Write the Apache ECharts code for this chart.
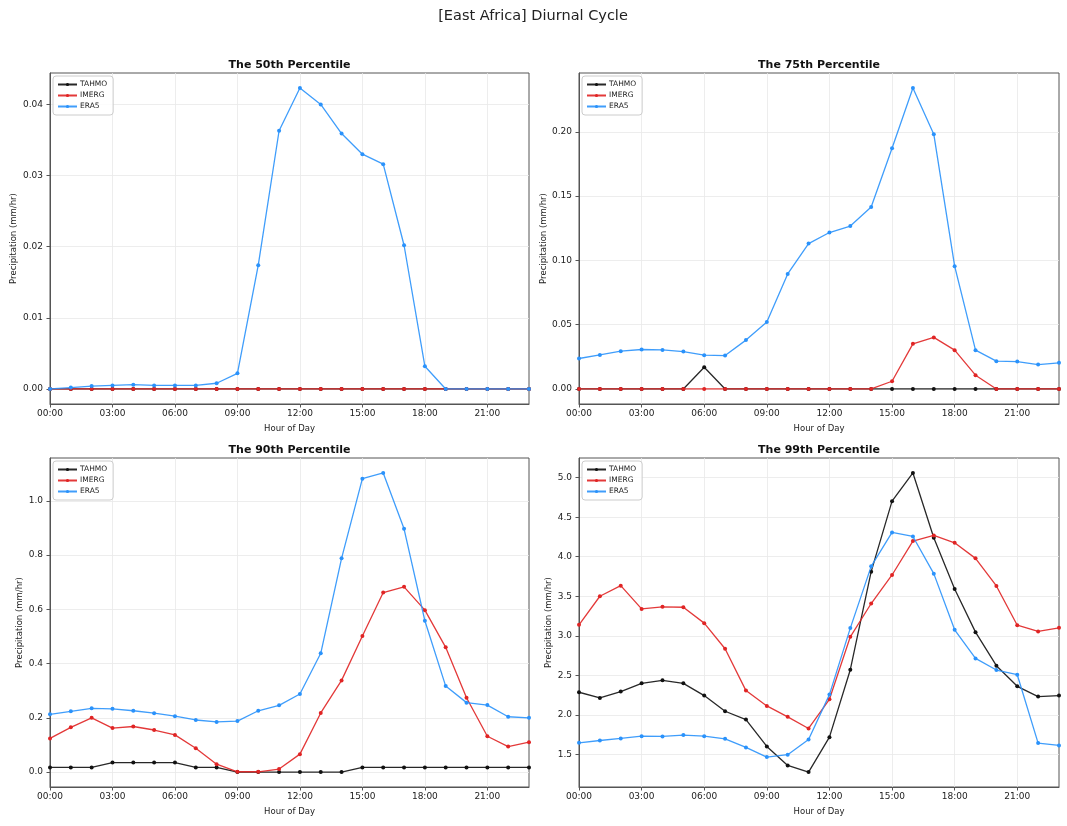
<!DOCTYPE html>
<html>
<head>
<meta charset="utf-8">
<title>[East Africa] Diurnal Cycle</title>
<script src="https://cdn.jsdelivr.net/npm/echarts@6/dist/echarts.min.js"></script>
<style>
	html, body { margin: 0; padding: 0; background: #fff; }
	#chart { width: 1067px; height: 826px; }
</style>
</head>
<body>
<div id="chart"></div>
<script>
// hours of the day (category axis)
var hours = ['00:00', '01:00', '02:00', '03:00', '04:00', '05:00', '06:00', '07:00', '08:00', '09:00', '10:00', '11:00',
	'12:00', '13:00', '14:00', '15:00', '16:00', '17:00', '18:00', '19:00', '20:00', '21:00', '22:00', '23:00'];

var datasetNames = ['TAHMO', 'IMERG', 'ERA5'];
var panelTitles = ['The 50th Percentile', 'The 75th Percentile', 'The 90th Percentile', 'The 99th Percentile'];

// 50th percentile
var tahmoP50 = [0, 0, 0, 0, 0, 0, 0, 0, 0, 0, 0, 0, 0, 0, 0, 0, 0, 0, 0, 0, 0, 0, 0, 0];
var imergP50 = [0, 0, 0, 0, 0, 0, 0, 0, 0, 0, 0, 0, 0, 0, 0, 0, 0, 0, 0, 0, 0, 0, 0, 0];
var era5P50 = [0, 0.0002, 0.0004, 0.0005, 0.0006, 0.0005, 0.0005, 0.0005, 0.0008, 0.0022, 0.0174, 0.0363,
	0.0423, 0.0400, 0.0359, 0.0330, 0.0316, 0.0202, 0.0032, 0, 0, 0, 0, 0];

// 75th percentile
var tahmoP75 = [0, 0, 0, 0, 0, 0, 0.0169, 0, 0, 0, 0, 0, 0, 0, 0, 0, 0, 0, 0, 0, 0, 0, 0, 0];
var imergP75 = [0, 0, 0, 0, 0, 0, 0, 0, 0, 0, 0, 0, 0, 0, 0, 0.0060, 0.0351, 0.0401, 0.0302, 0.0107, 0, 0, 0, 0];
var era5P75 = [0.0237, 0.0265, 0.0294, 0.0307, 0.0304, 0.0291, 0.0263, 0.0260, 0.0380, 0.0520, 0.0895, 0.1131,
	0.1217, 0.1267, 0.1415, 0.1873, 0.2341, 0.1982, 0.0955, 0.0302, 0.0216, 0.0213, 0.0190, 0.0203];

// 90th percentile
var tahmoP90 = [0.017, 0.017, 0.017, 0.035, 0.035, 0.035, 0.035, 0.017, 0.017, 0, 0, 0,
	0, 0, 0, 0.017, 0.017, 0.017, 0.017, 0.017, 0.017, 0.017, 0.017, 0.017];
var imergP90 = [0.124, 0.165, 0.200, 0.162, 0.168, 0.155, 0.137, 0.088, 0.029, 0.001, 0.001, 0.011,
	0.066, 0.218, 0.338, 0.502, 0.662, 0.683, 0.597, 0.460, 0.274, 0.132, 0.094, 0.110];
var era5P90 = [0.213, 0.224, 0.235, 0.233, 0.226, 0.217, 0.206, 0.192, 0.185, 0.188, 0.226, 0.246,
	0.288, 0.438, 0.788, 1.082, 1.103, 0.897, 0.558, 0.317, 0.256, 0.247, 0.204, 0.200];

// 99th percentile
var tahmoP99 = [2.286, 2.214, 2.294, 2.399, 2.437, 2.399, 2.244, 2.046, 1.941, 1.601, 1.361, 1.277,
	1.718, 2.571, 3.811, 4.702, 5.059, 4.240, 3.592, 3.046, 2.622, 2.361, 2.231, 2.244];
var imergP99 = [3.139, 3.500, 3.634, 3.340, 3.366, 3.361, 3.160, 2.836, 2.307, 2.113, 1.975, 1.828,
	2.197, 2.987, 3.408, 3.769, 4.197, 4.269, 4.176, 3.979, 3.630, 3.134, 3.055, 3.101];
var era5P99 = [1.647, 1.676, 1.702, 1.731, 1.727, 1.744, 1.731, 1.697, 1.588, 1.466, 1.496, 1.689,
	2.256, 3.097, 3.878, 4.307, 4.256, 3.786, 3.076, 2.714, 2.567, 2.508, 1.643, 1.613];

// y tick labels
var ticksP50 = [0, 0.01, 0.02, 0.03, 0.04];
var ticksP75 = [0, 0.05, 0.10, 0.15, 0.20];
var ticksP90 = [0, 0.2, 0.4, 0.6, 0.8, 1.0];
var ticksP99 = [1.5, 2.0, 2.5, 3.0, 3.5, 4.0, 4.5, 5.0];

var panelData = [
	[tahmoP50, imergP50, era5P50],
	[tahmoP75, imergP75, era5P75],
	[tahmoP90, imergP90, era5P90],
	[tahmoP99, imergP99, era5P99]
];
var panelTicks = [ticksP50, ticksP75, ticksP90, ticksP99];
var panelDecimals = [2, 2, 1, 1];

var colors = ['#111111', '#e02424', '#2a92fb'];
var FONT = 'DejaVu Sans';

// grid boxes (left, top, width, height)
var grids = [
	{ left: 50, top: 73, width: 479, height: 331 },
	{ left: 579, top: 73, width: 480, height: 331 },
	{ left: 50, top: 458, width: 479, height: 329 },
	{ left: 579, top: 458, width: 480, height: 329 }
];
var yNameGaps = [32, 31, 26, 25];

// matplotlib-style 5% margin around the data
function padRange(arrs) {
	var lo = Infinity, hi = -Infinity;
	arrs.forEach(function (a) {
		a.forEach(function (v) {
			if (v < lo) lo = v;
			if (v > hi) hi = v;
		});
	});
	var m = (hi - lo) * 0.05;
	return [lo - m, hi + m];
}

var titles = [{
	text: '[East Africa] Diurnal Cycle',
	left: 533, top: 9, textAlign: 'center', padding: 0,
	textStyle: { fontFamily: FONT, fontSize: 14.5, fontWeight: 'normal', color: '#222' }
}];
var xAxes = [], yAxes = [], legends = [], series = [];

grids.forEach(function (g, p) {
	titles.push({
		text: panelTitles[p],
		left: g.left + g.width / 2, top: g.top - 13, textAlign: 'center', padding: 0,
		textStyle: { fontFamily: FONT, fontSize: 11, fontWeight: 'bold', color: '#111' }
	});
	var range = padRange(panelData[p]);
	var dec = panelDecimals[p];
	xAxes.push({
		gridIndex: p,
		type: 'category',
		data: hours,
		boundaryGap: false,
		name: 'Hour of Day',
		nameLocation: 'middle',
		nameGap: 20,
		nameTextStyle: { fontFamily: FONT, fontSize: 8.5, color: '#222' },
		axisLine: { onZero: false, lineStyle: { color: '#555', width: 1 } },
		axisTick: { interval: 2, length: 3.5, lineStyle: { color: '#555' } },
		axisLabel: { interval: 2, margin: 5, fontFamily: FONT, fontSize: 9, color: '#222' },
		splitLine: { show: true, interval: 2, lineStyle: { color: '#e8e8e8', width: 0.8 } }
	});
	yAxes.push({
		gridIndex: p,
		type: 'value',
		min: range[0],
		max: range[1],
		name: 'Precipitation (mm/hr)',
		nameLocation: 'middle',
		nameGap: yNameGaps[p],
		nameTextStyle: { fontFamily: FONT, fontSize: 8.5, color: '#222' },
		axisLine: { show: true, onZero: false, lineStyle: { color: '#555', width: 1 } },
		axisTick: { show: true, length: 3.5, customValues: panelTicks[p], lineStyle: { color: '#555' } },
		axisLabel: {
			customValues: panelTicks[p],
			margin: 7, fontFamily: FONT, fontSize: 9, color: '#222',
			formatter: function (v) { return Number(v).toFixed(dec); }
		},
		splitLine: { show: true, lineStyle: { color: '#e8e8e8', width: 0.8 } }
	});
	legends.push({
		data: datasetNames,
		orient: 'vertical',
		left: g.left + 3,
		top: g.top + 3,
		itemWidth: 19,
		itemHeight: 4,
		itemGap: 2,
		padding: [4, 6, 4, 4],
		borderColor: '#cccccc',
		borderWidth: 1,
		borderRadius: 3,
		backgroundColor: 'rgba(255,255,255,0.8)',
		selectedMode: false,
		textStyle: { fontFamily: FONT, fontSize: 7.5, lineHeight: 9, color: '#222', padding: [0, 0, 0, -2] }
	});
	datasetNames.forEach(function (name, k) {
		series.push({
			name: name,
			type: 'line',
			xAxisIndex: p,
			yAxisIndex: p,
			data: panelData[p][k],
			symbol: 'circle',
			symbolSize: 4,
			showSymbol: true,
			animation: false,
			color: colors[k],
			itemStyle: { color: colors[k] },
			lineStyle: { color: colors[k], width: 1.3, opacity: 0.9 },
			z: 2 + k
		});
	});
});

var chart = echarts.init(document.getElementById('chart'), null, { renderer: 'canvas' });
chart.setOption({
	backgroundColor: '#ffffff',
	animation: false,
	title: titles,
	grid: grids.map(function (g) {
		return { left: g.left, top: g.top, width: g.width, height: g.height, show: true, borderColor: '#555', borderWidth: 1, backgroundColor: 'transparent', containLabel: false };
	}),
	legend: legends,
	xAxis: xAxes,
	yAxis: yAxes,
	series: series
});
window.addEventListener('resize', function () { chart.resize(); });
</script>
</body>
</html>
